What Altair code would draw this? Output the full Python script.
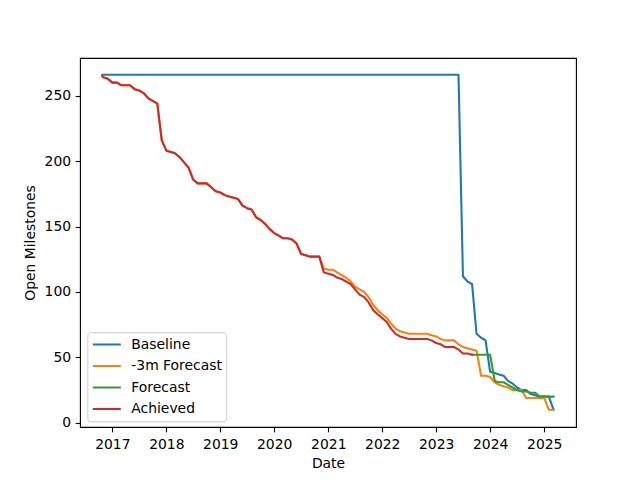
import altair as alt
import pandas as pd

# ---- data ----
start_date = "2016-10-25"
end_date = "2025-03-05"
month_dates = [d.strftime("%Y-%m-%d") for d in pd.date_range("2016-11-01", "2025-02-01", freq="MS")]
all_dates = [start_date] + month_dates + [end_date]  # 102 points

achieved = [265, 264, 263, 260, 260, 258, 258, 258, 255, 254, 252, 248, 246, 244, 216, 208,
            207, 206, 203, 199, 195, 186, 183, 183, 183, 180, 177, 176, 174, 173, 172, 171,
            166, 164, 163, 157, 155, 152, 148, 145, 143, 141, 141, 140, 137, 129, 128, 127,
            127, 127, 115, 114, 113, 111, 110, 108, 106, 102, 98, 96, 92, 86, 83, 80,
            77, 72, 68, 66, 65, 64, 64, 64, 64, 64, 63, 61, 60, 58, 58, 58, 56, 53, 53, 52]

forecast_3m = achieved[:50] + [118, 117, 117, 115, 113, 111, 108, 104, 102, 100, 96, 90, 86, 83,
                               80, 76, 72, 70, 69, 68, 68, 68, 68, 68, 67, 66, 64, 63, 63, 63,
                               60, 58, 57, 56, 55, 36, 36, 35, 31, 29, 28, 27, 25, 25, 25, 19,
                               19, 19, 19, 19, 10, 10]

forecast = [52, 52, 52, 52, 52, 32, 31, 31, 29, 27, 25, 24, 24, 23, 23, 20, 20, 20, 20]
forecast_dates = all_dates[83:]

baseline_dates = ["2016-10-25", "2023-06-01", "2023-07-01", "2023-08-01", "2023-09-01",
                  "2023-10-01", "2023-11-01", "2023-12-01", "2024-01-01", "2024-02-01",
                  "2024-03-01", "2024-04-01", "2024-05-01", "2024-06-01", "2024-07-01",
                  "2024-08-01", "2024-09-01", "2024-10-01", "2024-11-01", "2024-12-01",
                  "2025-01-01", "2025-02-01", "2025-03-05"]
baseline = [266, 266, 112, 108, 106, 68, 65, 63, 39, 38, 37, 36, 32, 30, 27, 25, 25, 22, 21,
            20, 20, 20, 10]

series_names = ["Baseline", "-3m Forecast", "Forecast", "Achieved"]
series_colors = ["#1f77b4", "#ff7f0e", "#2ca02c", "#d62728"]
year_ticks = list(range(2017, 2026))
y_ticks = [0, 50, 100, 150, 200, 250]


def frame(dates, values, name):
    return pd.DataFrame({"date": [d + "T00:00:00" for d in dates],
                         "value": values, "series": name})


frames = {
    "Baseline": frame(baseline_dates, baseline, "Baseline"),
    "-3m Forecast": frame(all_dates, forecast_3m, "-3m Forecast"),
    "Forecast": frame(forecast_dates, forecast, "Forecast"),
    "Achieved": frame(all_dates[:len(achieved)], achieved, "Achieved"),
}

FS = 13.9
FONT = "DejaVu Sans"

x_enc = alt.X(
    "date:T",
    scale=alt.Scale(domain=[alt.DateTime(year=2016, month=5, date=27),
                            alt.DateTime(year=2025, month=8, date=4)], nice=False),
    axis=alt.Axis(values=[alt.DateTime(year=y, month=1, date=1) for y in year_ticks],
                  format="%Y", title="Date", grid=False, domain=False,
                  tickSize=4.86, tickWidth=1.1, tickColor="black",
                  labelFontSize=FS, labelColor="black", labelFont=FONT, labelPadding=5.4,
                  labelFlush=False, labelOverlap=False,
                  titleFont=FONT, titleFontSize=FS, titleFontWeight="normal",
                  titleColor="black", titleY=40.3, titleBaseline="alphabetic"),
)
y_enc = alt.Y(
    "value:Q",
    scale=alt.Scale(domain=[-3.2, 278.8], nice=False, zero=False),
    axis=alt.Axis(values=y_ticks, title="Open Milestones", grid=False, domain=False,
                  tickSize=4.86, tickWidth=1.1, tickColor="black",
                  labelFontSize=FS, labelColor="black", labelFont=FONT, labelPadding=4.5,
                  labelFlush=False,
                  titleFont=FONT, titleFontSize=FS, titleFontWeight="normal",
                  titleColor="black", titleX=-45.9, titleY=184.5, titleAngle=270,
                  titleBaseline="alphabetic"),
)
color_enc = alt.Color(
    "series:N",
    scale=alt.Scale(domain=series_names, range=series_colors),
    title=None,
    legend=alt.Legend(orient="none", legendX=7.3, legendY=274.3, symbolType="stroke",
                      symbolSize=784, symbolStrokeWidth=2.08, labelFontSize=FS,
                      labelFont=FONT, labelColor="black", labelOffset=9,
                      clipHeight=16.5, rowPadding=4.5, padding=4,
                      fillColor="rgba(255,255,255,0.8)", strokeColor="#cccccc",
                      cornerRadius=3),
)

layers = []
for name in series_names:
    layers.append(
        alt.Chart(frames[name]).mark_line(strokeWidth=2.08, strokeCap="square",
                                          strokeJoin="round")
        .encode(x=x_enc, y=y_enc, color=color_enc)
    )

chart = alt.layer(*layers).properties(
    width=496, height=369,
    autosize=alt.AutoSizeParams(type="none"),
    padding={"left": 80, "top": 58, "right": 64, "bottom": 53},
    background="white",
).configure(font=FONT).configure_view(stroke="black", strokeWidth=1.1)

chart.save("out.html", embed_options={"renderer": "svg", "actions": False})
